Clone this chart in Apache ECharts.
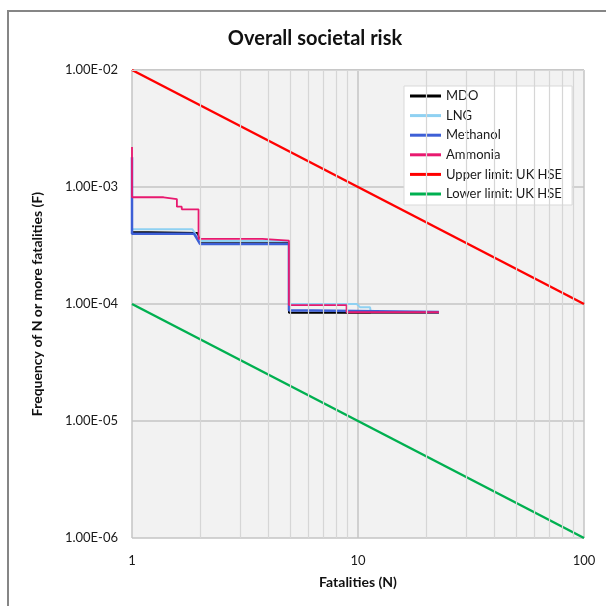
<!DOCTYPE html>
<html>
<head>
<meta charset="utf-8">
<script src="https://cdn.jsdelivr.net/npm/echarts@6/dist/echarts.min.js"></script>
<style>html,body{margin:0;padding:0;background:#fff}#c{width:606px;height:606px}</style>
</head>
<body>
<div id="c"></div>
<script>
// ---- data ----
const mdoN = [1, 1, 1.95, 2.0, 4.95, 4.95, 22.8];
const mdoF = [1.6e-3, 4.12e-4, 4.05e-4, 3.3e-4, 3.3e-4, 8.4e-5, 8.4e-5];

const lngN = [1, 1, 1.85, 2.0, 4.95, 4.95, 9.87, 10.2, 11.3, 11.4, 22.8];
const lngF = [1.5e-3, 4.35e-4, 4.35e-4, 3.45e-4, 3.45e-4, 1.0e-4, 1.0e-4, 9.4e-5, 9.4e-5, 8.5e-5, 8.5e-5];

const methN = [1, 1, 1.88, 2.0, 4.95, 4.95, 6.3, 6.3, 22.8];
const methF = [1.8e-3, 3.99e-4, 3.99e-4, 3.26e-4, 3.26e-4, 8.8e-5, 8.8e-5, 8.55e-5, 8.55e-5];

const ammN = [1, 1, 1.38, 1.38, 1.58, 1.58, 1.66, 1.66, 1.97, 1.97, 3.77, 3.77, 4.95, 4.95, 8.9, 8.9, 22.8];
const ammF = [2.2e-3, 8.17e-4, 8.17e-4, 7.89e-4, 7.89e-4, 6.79e-4, 6.79e-4, 6.45e-4, 6.45e-4, 3.6e-4, 3.6e-4, 3.48e-4, 3.48e-4, 9.8e-5, 9.8e-5, 8.5e-5, 8.5e-5];

const upperN = [1, 100];
const upperF = [1e-2, 1e-4];
const lowerN = [1, 100];
const lowerF = [1e-4, 1e-6];

const xTicks = ['1', '10', '100'];
const yTicks = ['1.00E-06', '1.00E-05', '1.00E-04', '1.00E-03', '1.00E-02'];

// ---- helpers ----
const pairs = (xs, ys) => xs.map((x, i) => [x, ys[i]]);
const xMinor = [];
for (let d = 1; d <= 10; d *= 10) for (let m = 2; m <= 9; m++) xMinor.push(m * d);
const yMinor = [];
for (let e = -6; e <= -3; e++) for (let m = 2; m <= 9; m++) yMinor.push(m * Math.pow(10, e));

const font = 'Lato, "Noto Sans", sans-serif';
const chart = echarts.init(document.getElementById('c'));

function mk(name, xs, ys, color, width) {
  return {
    name, type: 'line', data: pairs(xs, ys), symbol: 'none', showSymbol: false,
    lineStyle: { color, width }, itemStyle: { color }, animation: false
  };
}

chart.setOption({
  animation: false,
  backgroundColor: '#fff',
  graphic: [{
    type: 'rect', silent: true, z: 100,
    shape: { x: 8, y: 11, width: 800, height: 800 },
    style: { fill: 'none', stroke: '#868686', lineWidth: 2 }
  }],
  title: {
    text: 'Overall societal risk', left: 310, top: 24, textAlign: 'center',
    textStyle: { fontFamily: font, fontSize: 20, fontWeight: 'bold', color: '#111' }
  },
  grid: { left: 132, right: 22, top: 70, bottom: 68, show: true, backgroundColor: '#f2f2f2', borderWidth: 0 },
  legend: {
    orient: 'vertical', left: 404, top: 86,
    backgroundColor: '#fff', borderColor: '#d9d9d9', borderWidth: 1, borderRadius: 0,
    padding: [2, 10, 3, 6], itemGap: 3.6, itemWidth: 31, itemHeight: 3, icon: 'rect',
    textStyle: { fontFamily: font, fontSize: 13, color: '#1a1a1a', lineHeight: 16 },
    data: ['MDO', 'LNG', 'Methanol', 'Ammonia', 'Upper limit: UK HSE', 'Lower limit: UK HSE']
  },
  xAxis: {
    type: 'log', logBase: 10, min: 1, max: 100,
    name: 'Fatalities (N)', nameLocation: 'middle', nameGap: 37,
    nameTextStyle: { fontFamily: font, fontSize: 14, fontWeight: 'bold', color: '#111' },
    axisLine: { show: false }, axisTick: { show: false },
    axisLabel: {
      fontFamily: font, fontSize: 13, color: '#1a1a1a', margin: 16,
      formatter: v => { const e = Math.round(Math.log10(v)); return xTicks[e] || ''; }
    },
    splitLine: { show: true, lineStyle: { color: '#c4c4c4', width: 1.5 } }
  },
  yAxis: {
    type: 'log', logBase: 10, min: 1e-6, max: 1e-2,
    name: 'Frequency of N or more fatalities (F)', nameLocation: 'middle', nameGap: 88,
    nameTextStyle: { fontFamily: font, fontSize: 14, fontWeight: 'bold', color: '#111' },
    axisLine: { show: false }, axisTick: { show: false },
    axisLabel: {
      fontFamily: font, fontSize: 13, color: '#1a1a1a', margin: 14,
      formatter: v => { const e = Math.round(Math.log10(v)); return yTicks[e + 6] || ''; }
    },
    splitLine: { show: true, lineStyle: { color: '#c4c4c4', width: 1.5 } }
  },
  series: [
    {
      name: '_grid', type: 'line', data: [], silent: true, z: 1,
      markLine: {
        silent: true, symbol: 'none', label: { show: false }, animation: false,
        lineStyle: { color: '#d6d6d6', width: 1.2, type: 'solid' },
        data: xMinor.map(v => ({ xAxis: v })).concat(yMinor.map(v => ({ yAxis: v })))
      }
    },
    mk('MDO', mdoN, mdoF, '#000000', 2),
    mk('LNG', lngN, lngF, '#8fd1f2', 2),
    mk('Methanol', methN, methF, '#3d5fd6', 2.5),
    mk('Ammonia', ammN, ammF, '#e8196f', 1.8),
    mk('Upper limit: UK HSE', upperN, upperF, '#ff0000', 2.5),
    mk('Lower limit: UK HSE', lowerN, lowerF, '#00b050', 2.5)
  ]
});
</script>
</body>
</html>
